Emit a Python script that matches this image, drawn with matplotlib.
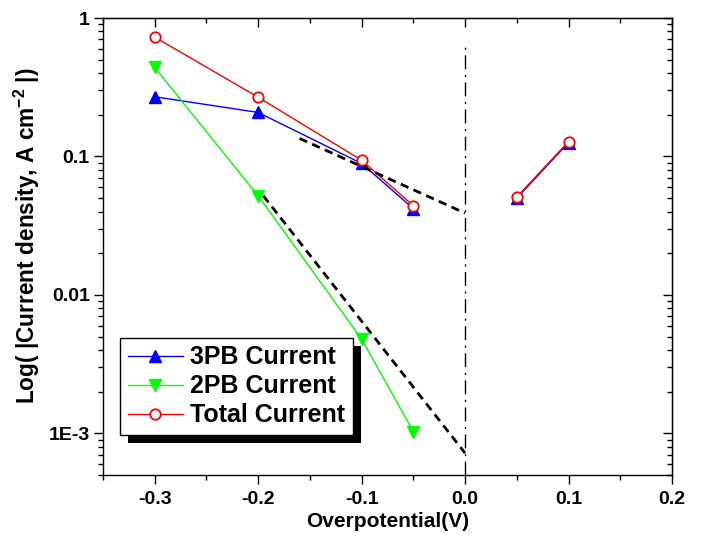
import numpy as np
import matplotlib
matplotlib.use('Agg')
import matplotlib.pyplot as plt
from matplotlib.ticker import FixedLocator, LogLocator, MultipleLocator, FuncFormatter, NullFormatter
from matplotlib.patches import Rectangle

plt.rcParams['font.family'] = ['Liberation Sans', 'DejaVu Sans']
plt.rcParams['font.weight'] = 'bold'
plt.rcParams['mathtext.fontset'] = 'custom'
plt.rcParams['mathtext.rm'] = 'Liberation Sans:bold'
plt.rcParams['mathtext.bf'] = 'Liberation Sans:bold'
plt.rcParams['mathtext.it'] = 'Liberation Sans:bold'

# Data (nan breaks the line across 0 V)
overpot = [-0.3, -0.2, -0.1, -0.05, np.nan, 0.05, 0.1]
tpb = [0.27, 0.208, 0.089, 0.042, np.nan, 0.050, 0.126]
total = [0.728, 0.268, 0.094, 0.044, np.nan, 0.051, 0.128]

overpot_2pb = [-0.3, -0.2, -0.1, -0.05]
dpb = [0.44, 0.052, 0.0048, 0.00103]

# Tafel fit lines (end points)
fit_3pb_x = [-0.16, 0.0]
fit_3pb_y = [0.135, 0.039]
fit_2pb_x = [-0.195, 0.0]
fit_2pb_y = [0.052, 0.00072]

ytick_vals = [1e-3, 1e-2, 1e-1, 1]
ytick_labels = ['1E-3', '0.01', '0.1', '1']


def main():
    fig = plt.figure(figsize=(7.02, 5.43), dpi=100)
    ax = fig.add_axes([0.1467, 0.1252, 0.8105, 0.8416])

    ax.plot(overpot, tpb, color='#0000ff', lw=1, marker='^', ms=9,
            label='3PB Current')
    ax.plot(overpot_2pb, dpb, color='#00ff00', lw=1, marker='v', ms=9,
            label='2PB Current')
    ax.plot(overpot, total, color='#ff0000', lw=1, marker='o', ms=7.5,
            mfc='white', mec='#ff0000', mew=1.3, label='Total Current')

    ax.plot(fit_3pb_x, fit_3pb_y, color='black', lw=2, ls=(0, (3, 2)), zorder=4)
    ax.plot(fit_2pb_x, fit_2pb_y, color='black', lw=2, ls=(0, (3, 2)), zorder=4)
    ax.axvline(0.0, ymax=0.94, color='black', lw=1,
               ls=(0, (10, 4, 1.5, 4)), zorder=1)

    ax.set_yscale('log')
    ax.set_xlim(-0.35, 0.2)
    ax.set_ylim(5e-4, 1)

    ax.xaxis.set_major_locator(MultipleLocator(0.1))
    ax.xaxis.set_minor_locator(MultipleLocator(0.05))
    ax.xaxis.set_major_formatter(FuncFormatter(lambda v, p: f'{v:.1f}'))
    ax.yaxis.set_major_locator(FixedLocator(ytick_vals))
    ax.yaxis.set_major_formatter(FuncFormatter(
        lambda v, p: dict(zip(ytick_vals, ytick_labels)).get(v, '')))
    ax.yaxis.set_minor_locator(LogLocator(base=10, subs=np.arange(2, 10)))
    ax.yaxis.set_minor_formatter(NullFormatter())

    ax.tick_params(which='both', direction='out', labelsize=14, width=1)
    ax.tick_params(which='major', length=6.5, pad=3)
    ax.tick_params(axis='x', which='major', pad=5)
    ax.tick_params(which='minor', length=3.5)
    for t in ax.get_xticklabels() + ax.get_yticklabels():
        t.set_fontweight('bold')

    # inward ticks on top and right
    top = ax.secondary_xaxis('top')
    top.xaxis.set_major_locator(MultipleLocator(0.1))
    top.xaxis.set_minor_locator(MultipleLocator(0.05))
    top.tick_params(which='both', direction='in', labeltop=False, width=1)
    top.tick_params(which='major', length=6.5)
    top.tick_params(which='minor', length=3.5)
    right = ax.secondary_yaxis('right')
    right.yaxis.set_major_locator(FixedLocator(ytick_vals))
    right.yaxis.set_minor_locator(LogLocator(base=10, subs=np.arange(2, 10)))
    right.yaxis.set_minor_formatter(NullFormatter())
    right.tick_params(which='both', direction='in', labelright=False, width=1)
    right.tick_params(which='major', length=6.5)
    right.tick_params(which='minor', length=3.5)

    for s in ax.spines.values():
        s.set_linewidth(1)

    ax.set_xlabel('Overpotential(V)', fontsize=15, fontweight='bold', labelpad=3)
    ax.set_ylabel(r'Log( |Current density, A cm$^{-2}$ |)', fontsize=16.3,
                  fontweight='bold')
    ax.yaxis.set_label_coords(-0.108, 0.523)

    leg = ax.legend(loc='lower left', bbox_to_anchor=(0.030, 0.088),
                    fancybox=False, edgecolor='black', framealpha=1,
                    prop={'size': 18, 'weight': 'bold'}, handlelength=2.2,
                    borderpad=0.3, labelspacing=0.2, handletextpad=0.3,
                    borderaxespad=0)
    leg.get_frame().set_linewidth(1)

    fig.canvas.draw()
    bb = leg.get_window_extent()
    shadow = Rectangle((bb.x0 + 8, bb.y0 - 8), bb.width, bb.height,
                       transform=None, facecolor='black', edgecolor='none',
                       zorder=4.9)
    ax.add_artist(shadow)

    fig.savefig('out.png', dpi=100)


if __name__ == '__main__':
    main()
